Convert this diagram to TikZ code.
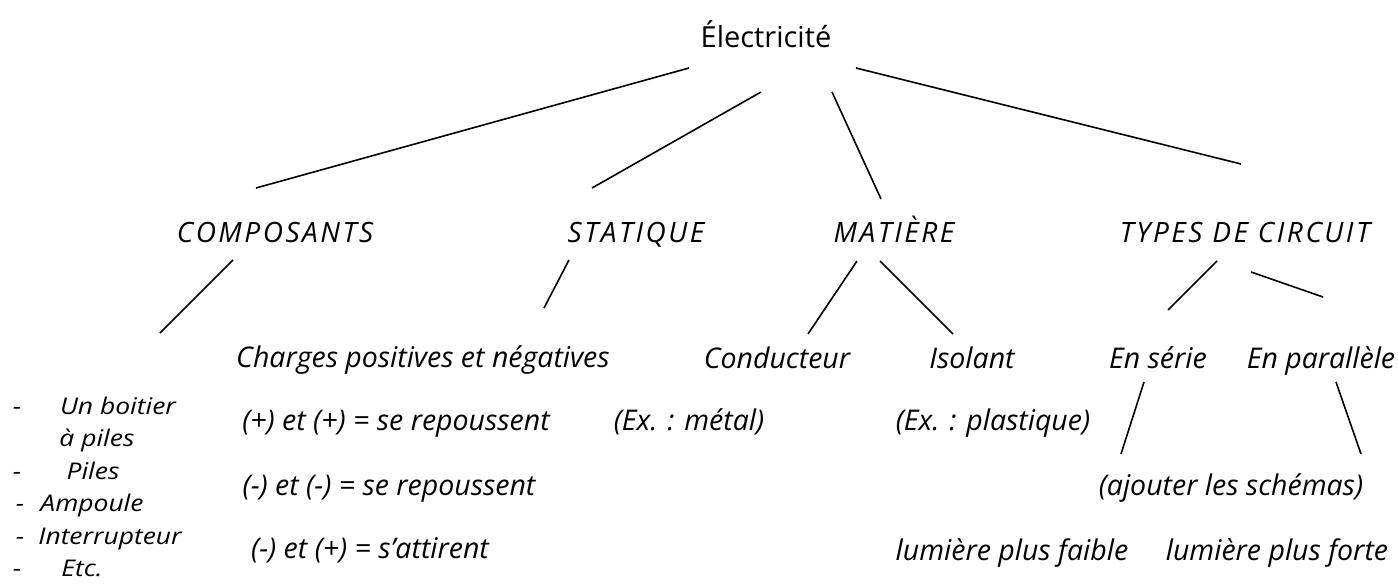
\documentclass[tikz,border=0pt]{standalone}
\usepackage{fontspec}
\setmainfont{Open Sans}
\newfontfamily\capsfont[LetterSpace=9]{Open Sans}
\newfontfamily\listfont[FakeStretch=1.15]{Open Sans}
\begin{document}
\begin{tikzpicture}[x=1pt,y=-1pt,
  title/.style={anchor=base,inner sep=0pt,font=\fontsize{29}{34}\selectfont},
  cat/.style={anchor=base,inner sep=0pt,font=\capsfont\itshape\fontsize{28}{33}\selectfont},
  txt/.style={anchor=base,inner sep=0pt,font=\itshape\fontsize{28.5}{34}\selectfont},
  lst/.style={anchor=base,inner sep=0pt,font=\listfont\itshape\fontsize{23}{27}\selectfont},
  link/.style={line width=1.6pt,black}]
\useasboundingbox (0,0) rectangle (1398,586);
% texts
\node[title] (root) at (766,48) {Électricité};
\node[cat] (comp) at (275,242) {COMPOSANTS};
\node[cat] (stat) at (636,242) {STATIQUE};
\node[cat] (mat) at (894,242) {MATIÈRE};
\node[cat] (types) at (1245,242) {TYPES DE CIRCUIT};
\node[txt] (charges) at (423,367) {Charges positives et négatives};
\node[txt] (cond) at (777,368) {Conducteur};
\node[txt] (iso) at (972,368) {Isolant};
\node[txt] (serie) at (1158,368) {En série};
\node[txt] (para) at (1321,368) {En parallèle};
\node[txt] (pp) at (396,430) {(+) et (+) = se repoussent};
\node[txt] (metal) at (689,430) {(Ex. : métal)};
\node[txt] (plast) at (993,430) {(Ex. : plastique)};
\node[txt] (mm) at (389,495) {(-) et (-) = se repoussent};
\node[txt] (schem) at (1231,495) {(ajouter les schémas)};
\node[txt] (mp) at (370,558) {(-) et (+) = s’attirent};
\node[txt] (faible) at (1012,560) {lumière plus faible};
\node[txt] (forte) at (1277,560) {lumière plus forte};
% list
\node[lst] (d1) at (17,414) {-};
\node[lst] (i1) at (118,414) {Un boitier};
\node[lst] (i1b) at (97,446) {à piles};
\node[lst] (d2) at (17,479) {-};
\node[lst] (i2) at (93,479) {Piles};
\node[lst] (d3) at (20,511) {-};
\node[lst] (i3) at (92,511) {Ampoule};
\node[lst] (d4) at (20,544) {-};
\node[lst] (i4) at (110,544) {Interrupteur};
\node[lst] (d5) at (17,576) {-};
\node[lst] (i5) at (82,576) {Etc.};
% connector ends
\coordinate (a1) at (689,68);  \coordinate (b1) at (256,188);
\coordinate (a2) at (761,92);  \coordinate (b2) at (592,188);
\coordinate (a3) at (832,92);  \coordinate (b3) at (881,199);
\coordinate (a4) at (856,68);  \coordinate (b4) at (1241,164);
\coordinate (a5) at (233,260); \coordinate (b5) at (160,333);
\coordinate (a6) at (569,260); \coordinate (b6) at (544,308);
\coordinate (a7) at (857,261); \coordinate (b7) at (808,334);
\coordinate (a8) at (880,261); \coordinate (b8) at (953,334);
\coordinate (a9) at (1217,261); \coordinate (b9) at (1168,310);
\coordinate (a10) at (1251,272); \coordinate (b10) at (1323,297);
\coordinate (a11) at (1144,382); \coordinate (b11) at (1121,454);
\coordinate (a12) at (1336,382); \coordinate (b12) at (1361,454);
\foreach \i in {1,...,12} {\draw[link] (a\i) -- (b\i);}
\end{tikzpicture}
\end{document}
